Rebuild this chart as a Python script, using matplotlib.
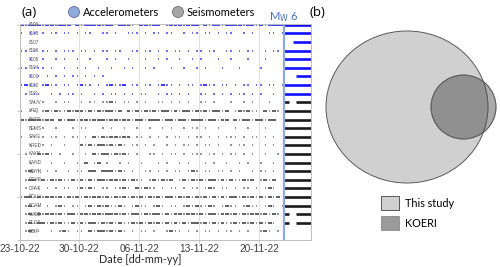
import matplotlib
matplotlib.use("Agg")
import matplotlib.pyplot as plt
from matplotlib.patches import Ellipse, Rectangle

# ---------------- data ----------------
stations = ["8109", "8108", "8107", "8106", "8105", "8104", "8103", "8102", "8101",
            "SAUV", "HRQ", "BKSR", "BEMS", "SAKE", "KRED", "KAYN", "KAND", "GEYN",
            "DEVR", "DFAS", "BOLU", "BCAM", "UVEB", "RLDS", "DBIF"]
n_accel = 9  # first rows are accelerometers

# availability before the event, one char = half a day from 23-10-22
# ' ' none, '.' short chunk, '-' longer chunk
patterns = [
    "-.---.--.--- -.----.-- ---. --.-- .---.--- -.--.----.--.-.---- ",
    ". .. . .. .. . ..  .. .  ... . .. ..  . .. .. . ..  . .   .. .",
    "",
    ".. . .. . ... .. . .. ..  .. .. . . .. . .. ..  .. . ..  . .. ",
    "  .  .  . .  .  .   . .  .   .  . .  .  . .   .  .   .   .   ",
    ".. ... .  .  . .  .  .  . .  . .   .  .  . .   .   .    .     ",
    "  . . . . . .. . . .                                          ",
    ".-.. .-.. .. .-.. . .-..- .. .. .-.. . .. .-.. .. . .. .. .. . ",
    " . ..  . . .. .  . . .. . . ..  . .. . .  .. . . . .. . .  .  ",
    "   . .  . ..  . .. ..-. .. . .  .. . . .  .. .   .  . .   .   ",
    ". .. .-.-..-.--.-.-.--.- -.-.-.-.--.-.--.-.-.--.- .-.-.. -.-. ",
    "-.---.-- -.--.--.---.--.--.--.---.--.--.---.--.-- -.--.--.--  ",
    "   . .  .   . ..   . .  .  .  .  . .  . .. .  .   .  .   .    ",
    ". .. . .. . .. . -.-.--.-- .. . . . .. . .. . . ... . .. . .  ",
    "  . .. .  .   -.-.--.-.-. .. . .  . . .. . .. .  . .. .  . .  ",
    " . .-.-. .  .  . -.--.-.-. .  .. . .. . ... .. . .. . .  .  . ",
    "  .    .  .  . - .- .  . .  .   . .  . .   . .  .  . .  .  .  ",
    " .-.. . .  . .. -- ---.-. .  .. . . .. .-. .. .. . .  . .. .  ",
    " .--.-.-.-..-.-.-.--.--.-.-.. .-.-.- .-.-.-.--.-.-..-.- .-.-  ",
    " . .. . . .. .-.-. .. ..-. -.-.. . .. . .. .-. .. . .. . .-.  ",
    ".--.-.--.-.-.-.-.--.-.-.-.-.-.-.-.--.-.-.-.-.-.-.--.-.-.-.-.-",
    " .-.. . .-. .. .-.-.-..-. .-.. .-. .. .-.-..-. .-.. .-.. .-. .",
    " .-.-.--.-.--.--.--.---.-.--.-.--.-.--.--.-.--.--.-.-.--.-.-. ",
    " .-.--.-.-..-.-.--.-.-.-..-.-.-.-.-.-.-.--.-.-.-..-.-.-.-.-.  ",
    " .-..  . .-. .. -.--.-.-. . .. .  .-.. . . .. . .. . .  .-. .  ",
]

mw_day = 30.9     # Mw 6 event (days after 23-10-22)
end_day = 34.2
# continuous recording after the event: (start, end) segments per row
post = [
    [(mw_day, end_day)], [(mw_day, end_day)], [(32.0, end_day)], [(mw_day, end_day)],
    [(mw_day, end_day)], [(mw_day, end_day)], [(32.3, end_day)], [(mw_day, end_day)],
    [(mw_day, end_day)],
    [(mw_day, 31.5), (32.4, end_day)],
    [(mw_day, end_day)], [(mw_day, end_day)], [(mw_day, end_day)], [(mw_day, end_day)],
    [(mw_day, end_day)], [(mw_day, end_day)], [(mw_day, end_day)], [(mw_day, end_day)],
    [(mw_day, end_day)], [(mw_day, end_day)], [(mw_day, end_day)], [(mw_day, end_day)],
    [(mw_day, 31.5), (32.4, end_day)],
    [(mw_day, 31.5), (32.4, end_day)],
    [],
]

tick_days = [0, 7, 14, 21, 28]
tick_labels = ["23-10-22", "30-10-22", "06-11-22", "13-11-22", "20-11-22"]

legend_b = ["This study", "KOERI"]

# ---------------- figure ----------------
W, H = 500, 267
fig = plt.figure(figsize=(W / 100, H / 100), dpi=100)

def px_rect(x0, y0, x1, y1):
    return [x0 / W, 1 - y1 / H, (x1 - x0) / W, (y1 - y0) / H]

ax = fig.add_axes(px_rect(19.5, 24, 311, 240))
blue = "#1010ff"
black = "#1a1a1a"

for i, pat in enumerate(patterns):
    col = blue if i < n_accel else black
    a_dot, a_dash = (0.8, 0.9) if i < n_accel else (0.6, 0.75)
    for k, ch in enumerate(pat):
        d0 = k * 0.5
        if ch == ".":
            ax.hlines(i, d0 + 0.17, d0 + 0.33, color=col, lw=1.1, alpha=a_dot)
        elif ch == "-":
            ax.hlines(i, d0 + 0.02, d0 + 0.48, color=col, lw=1.3, alpha=a_dash)
    for (s, e) in post[i]:
        ax.hlines(i, s, e, color=col, lw=1.9)
    ax.text(1.05, i, stations[i], fontsize=3.3, color="#555555",
            va="center", ha="left", family="Liberation Sans", zorder=5)

ax.axvline(mw_day, color="#8faadc", lw=1.6, zorder=4)

ax.set_xlim(0, 34.1)
ax.set_ylim(25, -0.1)
ax.set_xticks(tick_days)
ax.set_xticklabels(tick_labels, fontsize=7.3, color="#404040", family="Liberation Sans")
ax.set_yticks(range(0, 26, 5))
ax.set_yticklabels([])
ax.tick_params(axis="both", length=2, color="#bfbfbf", width=0.6)
ax.tick_params(axis="x", pad=1)
for d in tick_days[1:]:
    ax.axvline(d, color="#dcdcdc", lw=0.6, zorder=0)
for sp in ax.spines.values():
    sp.set_color("#bfbfbf")
    sp.set_linewidth(0.7)

# overlay in pixel coordinates
ov = fig.add_axes([0, 0, 1, 1], facecolor="none")
ov.set_xlim(0, W)
ov.set_ylim(H, 0)
ov.axis("off")

ov.text(21, 12, "(a)", fontsize=9.5, va="center", ha="left", family="Open Sans")
ov.text(310, 12, "(b)", fontsize=9.5, va="center", ha="left", family="Open Sans")

ov.add_patch(Ellipse((74, 12), 11, 11, facecolor="#8faadc", edgecolor="#5a6e96", lw=0.6))
ov.text(83, 12.5, "Accelerometers", fontsize=7.9, va="center", ha="left", family="Lato")
ov.add_patch(Ellipse((178, 12), 11, 11, facecolor="#a6a6a6", edgecolor="#6f6f6f", lw=0.6))
ov.text(187, 12.5, "Seismometers", fontsize=7.9, va="center", ha="left", family="Lato")
ov.text(269, 17, r"M$_\mathrm{W}$ 6", fontsize=8, color="#4472c4", va="center",
        ha="left", family="Lato")
ov.text(140, 259.5, "Date [dd-mm-yy]", fontsize=7.8, color="#262626", va="center",
        ha="center", family="Lato")

# panel (b) venn
ov.add_patch(Ellipse((407, 107), 162, 152, facecolor="#d0d0d0", edgecolor="#595959", lw=0.7))
ov.add_patch(Ellipse((463.5, 107), 65, 64, facecolor="#444444", alpha=0.45,
                     edgecolor="#595959", lw=0.7))
ov.add_patch(Ellipse((463.5, 107), 65, 64, facecolor="none", edgecolor="#595959", lw=0.7))

ov.add_patch(Rectangle((381, 196), 18, 14, facecolor="#d0d0d0", edgecolor="#404040", lw=0.6))
ov.text(405, 203.5, legend_b[0], fontsize=7.8, va="center", ha="left", family="Lato")
ov.add_patch(Rectangle((381, 216), 18, 14, facecolor="#9a9a9a", edgecolor="#8a8a8a", lw=0.6))
ov.text(405, 223.5, legend_b[1], fontsize=7.8, va="center", ha="left", family="Lato")

fig.savefig("out.png", dpi=100)
